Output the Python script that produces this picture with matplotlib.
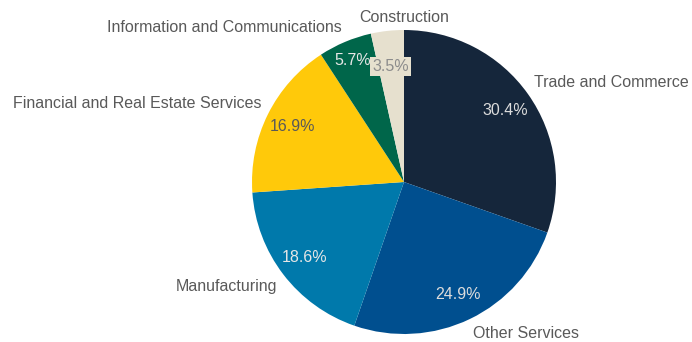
import numpy as np
import matplotlib.pyplot as plt

plt.rcParams['font.family'] = ['Liberation Sans', 'DejaVu Sans']

# sector shares in percent, clockwise from the top
sectors = ["Trade and Commerce", "Other Services", "Manufacturing",
           "Financial and Real Estate Services", "Information and Communications",
           "Construction"]
shares = [30.4, 24.9, 18.6, 16.9, 5.7, 3.5]

colors = ["#15263b", "#004f8f", "#0079ab", "#ffc90a", "#00664a", "#e6e0ce"]
pct_colors = ["#dcdcdc", "#dcdcdc", "#e6e6e6", "#595959", "#e6e6e6", "#8c8c8c"]

fig = plt.figure(figsize=(6.92, 3.42), dpi=100)
ax = fig.add_axes([(404 - 152) / 692, 8 / 342, 304 / 692, 304 / 342])

wedges, texts, autotexts = ax.pie(
    shares, labels=sectors, colors=colors, startangle=90, counterclock=False,
    autopct='%1.1f%%', pctdistance=0.82, labeldistance=1.05,
    textprops={'fontsize': 11.5, 'color': '#595959'})

for t, c in zip(autotexts, pct_colors):
    t.set_color(c)

# outer labels sit above the rim on the top half, below it on the bottom half
for t in texts:
    y = t.get_position()[1]
    t.set_verticalalignment('bottom' if y > 0 else 'top')

# push the 5.7% label a little further out along its wedge
w = wedges[4]
ang = np.deg2rad((w.theta1 + w.theta2) / 2)
autotexts[4].set_position((0.87 * np.cos(ang), 0.87 * np.sin(ang)))

# small slice label sits on its own box
autotexts[-1].set_bbox(dict(facecolor=colors[-1], edgecolor='none', pad=1.5))
autotexts[-1].set_position((autotexts[-1].get_position()[0], 0.76))
texts[-1].set_horizontalalignment('center')
texts[-1].set_verticalalignment('center')
texts[-1].set_position((0.0, 1.08))

ax.set_xlim(-1, 1)
ax.set_ylim(-1, 1)
ax.axis('off')

fig.savefig('out.png', dpi=100)
